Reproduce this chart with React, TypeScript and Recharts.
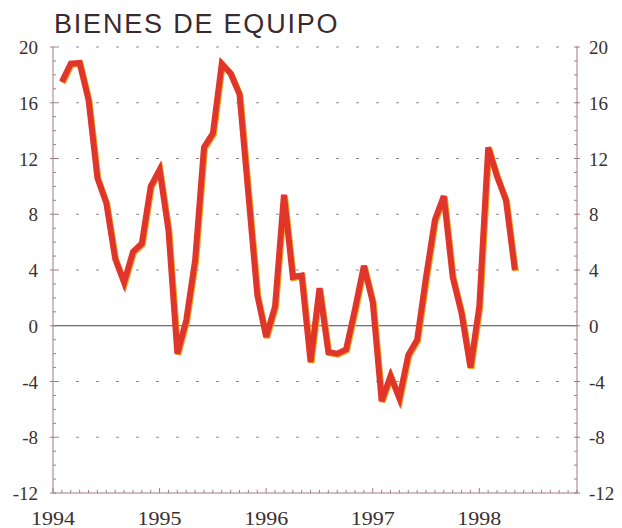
import { LineChart, Line, XAxis, YAxis, CartesianGrid, ReferenceLine } from 'recharts';

// month index: 0 = Jan 1994
const months = [
  1, 2, 3, 4, 5, 6, 7, 8, 9, 10, 11, 12,
  13, 14, 15, 16, 17, 18, 19, 20, 21, 22, 23, 24,
  25, 26, 27, 28, 29, 30, 31, 32, 33, 34, 35, 36,
  37, 38, 39, 40, 41, 42, 43, 44, 45, 46, 47, 48,
  49, 50, 51, 52,
];

const bienesEquipo = [
  17.5, 18.8, 18.85, 16.2, 10.6, 8.8, 4.8, 3.1, 5.3, 5.9, 10.0, 11.2,
  6.85, -2.0, 0.4, 4.7, 12.8, 13.8, 18.8, 18.1, 16.6, 9.4, 2.2, -0.8,
  1.4, 9.4, 3.5, 3.6, -2.6, 2.7, -1.9, -2.0, -1.7, 1.2, 4.3, 1.7,
  -5.4, -3.6, -5.2, -2.1, -1.0, 3.5, 7.6, 9.3, 3.5, 0.9, -3.0, 1.4,
  12.8, 10.7, 9.0, 4.0,
];

const yearTicks = [0, 12, 24, 36, 48];
const yearLabels = ['1994', '1995', '1996', '1997', '1998'];
const yTicks = [-12, -8, -4, 0, 4, 8, 12, 16, 20];
const yLabels = ['-12', '-8', '-4', '0', '4', '8', '12', '16', '20'];
const gridValues = [-8, -4, 4, 8, 12, 16, 20];

const data = months.map((m, i) => ({ m, v: bienesEquipo[i] }));

const monthTicks = Array.from({ length: 60 }, (_, i) => i);
const unitTicks = Array.from({ length: 33 }, (_, i) => i - 12);

const AXIS = '#a47a82';
const LABEL = '#3a3030';
const SERIF = 'Liberation Serif, Times New Roman, Times, DejaVu Serif, serif';

function BottomTick({ x, y, payload }: any) {
  const idx = yearTicks.indexOf(payload.value);
  const major = idx >= 0;
  return (
    <g>
      <line x1={x} x2={x} y1={y} y2={y - (major ? 5 : 3)} stroke={AXIS} strokeWidth={1} />
      {major && (
        <text
          x={x}
          y={y + 32}
          textAnchor="middle"
          style={{ fontFamily: SERIF, fontSize: 19 }}
          fill={LABEL}
          textLength={44}
          lengthAdjust="spacingAndGlyphs"
        >
          {yearLabels[idx]}
        </text>
      )}
    </g>
  );
}

function LeftTick({ x, y, payload }: any) {
  const idx = yTicks.indexOf(payload.value);
  const major = idx >= 0;
  return (
    <g>
      <line x1={major ? x - 3 : x} x2={x + 3} y1={y} y2={y} stroke={AXIS} strokeWidth={1} />
      {major && (
        <text x={x - 15} y={y} dy={7} textAnchor="end" style={{ fontFamily: SERIF, fontSize: 19 }} fill={LABEL}>
          {yLabels[idx]}
        </text>
      )}
    </g>
  );
}

function RightTick({ x, y, payload }: any) {
  const idx = yTicks.indexOf(payload.value);
  const major = idx >= 0;
  return (
    <g>
      <line x1={x - 3} x2={major ? x + 3 : x} y1={y} y2={y} stroke={AXIS} strokeWidth={1} />
      {major && (
        <text x={x + 12} y={y} dy={7} textAnchor="start" style={{ fontFamily: SERIF, fontSize: 19 }} fill={LABEL}>
          {yLabels[idx]}
        </text>
      )}
    </g>
  );
}

export default function App() {
  return (
    <div style={{ position: 'absolute', left: 0, top: 0, width: 622, height: 528, background: '#fff' }}>
      <div
        style={{
          position: 'absolute',
          left: 54,
          top: 11,
          fontFamily: 'Liberation Sans, Arial, Helvetica, sans-serif',
          fontSize: 27,
          lineHeight: '27px',
          letterSpacing: 1.8,
          color: '#3a2a30',
          whiteSpace: 'nowrap',
        }}
      >
        BIENES DE EQUIPO
      </div>
      <LineChart
        width={622}
        height={528}
        data={data}
        margin={{ top: 47, right: 5, bottom: 5, left: 8 }}
        style={{ position: 'absolute', left: 0, top: 0 }}
      >
        <defs>
          <filter id="halo" x="-5%" y="-5%" width="110%" height="110%">
            <feOffset dx="1.3" dy="0.7" />
          </filter>
        </defs>
        <CartesianGrid
          xAxisId="x"
          yAxisId="l"
          vertical={false}
          horizontalValues={gridValues}
          stroke="#8e8a8a"
          strokeDasharray="3 17"
          strokeDashoffset={17}
        />
        <XAxis
          xAxisId="x"
          dataKey="m"
          type="number"
          domain={[0, 59]}
          allowDataOverflow
          ticks={monthTicks}
          interval={0}
          tickLine={false}
          tickSize={0}
          tickMargin={0}
          height={30}
          axisLine={{ stroke: AXIS }}
          tick={<BottomTick />}
        />
        <YAxis
          yAxisId="l"
          orientation="left"
          type="number"
          domain={[-12, 20]}
          allowDataOverflow
          ticks={unitTicks}
          interval={0}
          tickLine={false}
          tickSize={0}
          tickMargin={0}
          width={45}
          axisLine={{ stroke: AXIS }}
          tick={<LeftTick />}
        />
        <YAxis
          yAxisId="r"
          orientation="right"
          type="number"
          domain={[-12, 20]}
          allowDataOverflow
          ticks={unitTicks}
          interval={0}
          tickLine={false}
          tickSize={0}
          tickMargin={0}
          width={40}
          axisLine={{ stroke: AXIS }}
          tick={<RightTick />}
        />
        <ReferenceLine xAxisId="x" yAxisId="l" y={0} stroke="#4a4446" strokeWidth={1} />
        <Line
          xAxisId="x"
          yAxisId="l"
          dataKey="v"
          stroke="#f2a51e"
          strokeWidth={6}
          filter="url(#halo)"
          dot={false}
          activeDot={false}
          isAnimationActive={false}
        />
        <Line
          xAxisId="x"
          yAxisId="l"
          dataKey="v"
          stroke="#e0352b"
          strokeWidth={6}
          dot={false}
          activeDot={false}
          isAnimationActive={false}
        />
      </LineChart>
    </div>
  );
}
